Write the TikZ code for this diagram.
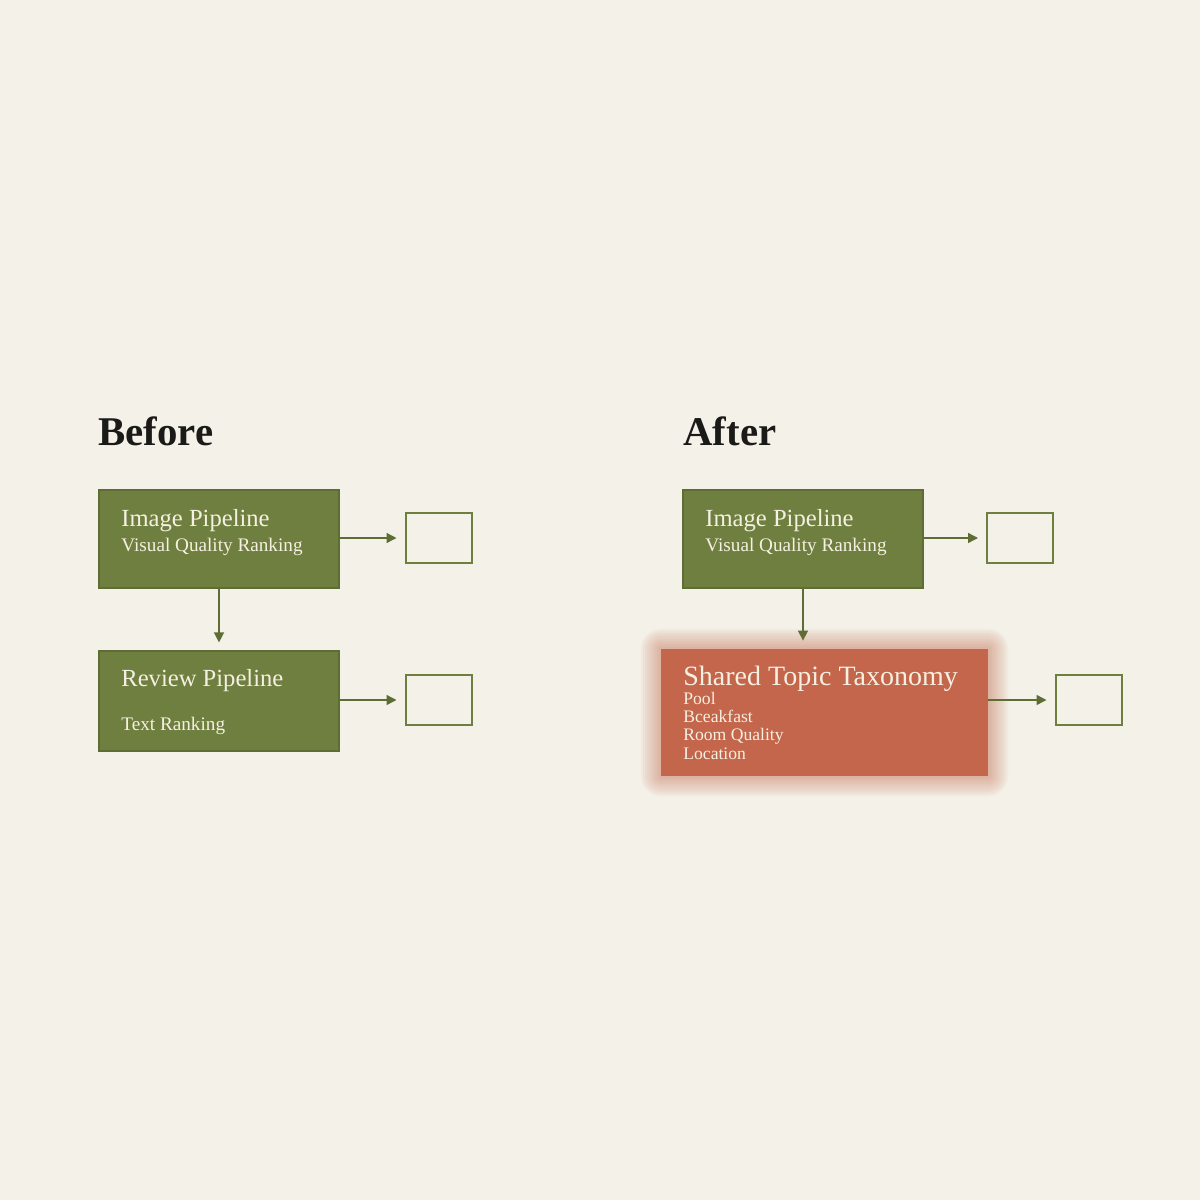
\documentclass[tikz,border=0pt]{standalone}
\usepackage{fontspec}
\setmainfont{Liberation Serif}
\usetikzlibrary{arrows.meta}
\definecolor{bg}{HTML}{F4F1E8}
\definecolor{olive}{HTML}{6F7F3F}
\definecolor{olivedark}{HTML}{5E6D33}
\definecolor{rust}{HTML}{C4664B}
\definecolor{cream}{HTML}{F5F0E2}
\definecolor{ink}{HTML}{1A1A18}
\begin{document}
\begin{tikzpicture}[x=0.5pt,y=-0.5pt,
  greenbox/.style={rectangle,fill=olive,draw=olivedark,line width=0.6pt,minimum width=120pt,inner sep=0pt},
  emptybox/.style={rectangle,draw=olive,line width=1pt,fill=none,minimum width=33pt,minimum height=25pt,inner sep=0pt},
  conn/.style={draw=olivedark,line width=0.7pt,-{Triangle[length=5pt,width=5pt]}},
  title/.style={anchor=base west,font=\fontsize{20.4}{24}\selectfont\bfseries,text=ink,inner sep=0pt},
  head/.style={anchor=base west,font=\fontsize{12.3}{14}\selectfont,text=cream,inner sep=0pt},
  sub/.style={anchor=base west,font=\fontsize{9.6}{11}\selectfont,text=cream,inner sep=0pt},
  item/.style={anchor=base west,font=\fontsize{8.8}{10}\selectfont,text=cream,inner sep=0pt}]
\fill[bg] (0,0) rectangle (1200,1200);
\useasboundingbox (0,0) rectangle (1200,1200);

% titles
\node[title] (tb) at (98,445) {Before};
\node[title] (ta) at (683,445) {After};

% Before column
\node[greenbox,minimum height=49pt] (b1) at (219,539) {};
\node[greenbox,minimum height=50pt] (b2) at (219,701) {};
\node[emptybox] (s1) at (438.5,538) {};
\node[emptybox] (s2) at (438.5,700) {};
\node[head] (b1h) at (121,526) {Image Pipeline};
\node[sub] (b1s) at (121,551) {Visual Quality Ranking};
\node[head] (b2h) at (121,686) {Review Pipeline};
\node[sub] (b2s) at (121,730) {Text Ranking};
\draw[conn,shorten >=4pt] (b1.east |- s1) -- (s1.west);
\draw[conn,shorten >=4pt] (b2.east |- s2) -- (s2.west);
\draw[conn,shorten >=4pt] (b1.south) -- (b2.north);

% After column
\node[greenbox,minimum height=49pt] (a1) at (803,539) {};
\node[emptybox] (s3) at (1020,538) {};
\node[head] (a1h) at (705,526) {Image Pipeline};
\node[sub] (a1s) at (705,551) {Visual Quality Ranking};
\draw[conn,shorten >=4pt] (a1.east |- s3) -- (s3.west);

% glow
\foreach \g in {20,18,16,14,12,10,8,6,4,2}{
  \fill[rust,opacity=0.05,rounded corners=\g*0.5pt] (661-\g,649-\g) rectangle (988+\g,776+\g);
}
\node[rectangle,fill=rust,draw=none,minimum width=163.5pt,minimum height=63.5pt,inner sep=0pt] (red) at (824.5,712.5) {};
\node[emptybox] (s4) at (1088.5,700) {};
\node[head,font=\fontsize{14}{16}\selectfont] (rh) at (683,685) {Shared Topic Taxonomy};
\node[item] (r1) at (683,704) {Pool};
\node[item] (r2) at (683,722) {Bceakfast};
\node[item] (r3) at (683,740) {Room Quality};
\node[item] (r4) at (683,759) {Location};
\draw[conn,shorten >=4pt] (a1.south) -- (red.north -| a1.south);
\draw[conn,shorten >=4pt] (red.east |- s4) -- (s4.west);
\end{tikzpicture}
\end{document}
